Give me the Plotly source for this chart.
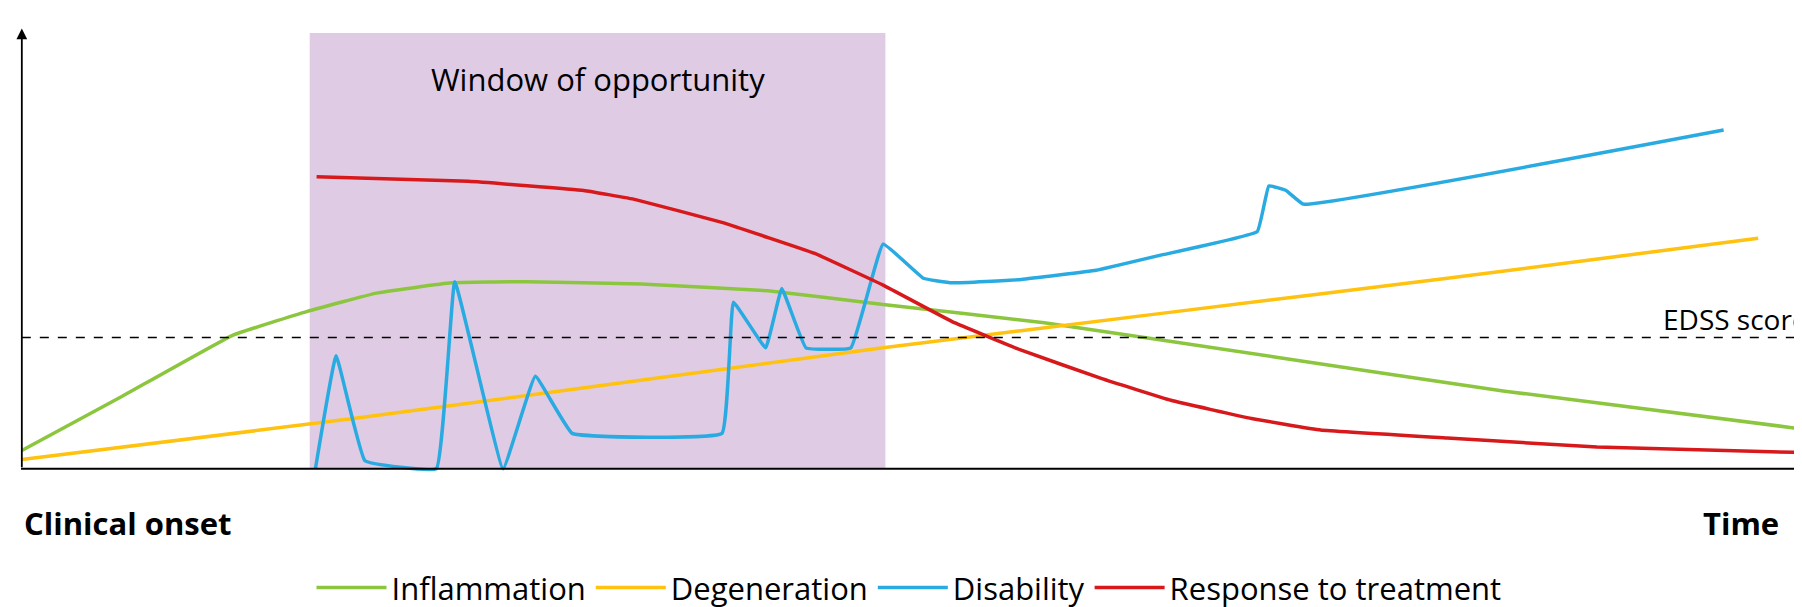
import plotly.graph_objects as go

# schematic curves (pixel space of a 1565x527 view, y grows downward)
infl_x = [12, 100, 195, 260, 320, 385, 450, 550, 660, 760, 900, 1100, 1300, 1565]
infl_y = [388, 340, 287, 266, 250, 241, 240, 242, 248, 260, 276, 306, 336, 370]

degen_x = [12, 300, 760, 1000, 1250, 1520]
degen_y = [396, 360, 298, 268, 237, 202]

resp_x = [268, 400, 500, 545, 620, 700, 760, 820, 880, 950, 1010, 1080, 1140, 1250, 1380, 1565]
resp_y = [148, 152, 160, 168, 188, 215, 243, 275, 300, 325, 344, 360, 370, 377, 385, 390]

dis_x = [267, 285, 310, 372, 388, 430, 458, 490, 620, 630, 658, 672, 693, 732, 760, 795,
         820, 880, 945, 1000, 1085, 1095, 1110, 1125, 1490]
dis_y = [404, 305, 397, 404, 240, 404, 323, 373, 373, 258, 298, 246, 298, 298, 207, 237,
         241, 238, 230, 217, 196, 156, 160, 172, 107]

FONT = "Open Sans"
fig = go.Figure()

# window of opportunity
fig.add_shape(type="rect", x0=262, x1=762, y0=22, y1=404, fillcolor="#dfcce4",
              line_width=0, layer="below")
fig.add_shape(type="line", x0=12, x1=1565, y0=289, y1=289,
              line=dict(color="black", width=1.5, dash="dash"))

series = [
    ("Inflammation", infl_x, infl_y, "#8cc63f"),
    ("Degeneration", degen_x, degen_y, "#ffc20e"),
    ("Disability", dis_x, dis_y, "#29abe2"),
    ("Response to treatment", resp_x, resp_y, "#d7191c"),
]
for name, xs, ys, c in series:
    fig.add_trace(go.Scatter(x=xs, y=ys, mode="lines", name=name,
                             line=dict(color=c, width=3.5, shape="spline", smoothing=0.25)))

# axes with arrows
fig.add_annotation(x=1565, y=404, ax=10, ay=404, xref="x", yref="y", axref="x", ayref="y",
                   showarrow=True, arrowhead=2, arrowsize=1.2, arrowwidth=1.8, text="",
                   arrowcolor="black")
fig.add_annotation(x=12, y=18, ax=12, ay=404, xref="x", yref="y", axref="x", ayref="y",
                   showarrow=True, arrowhead=2, arrowsize=1.2, arrowwidth=1.8, text="",
                   arrowcolor="black")

fig.add_annotation(x=512, y=62, text="Window of opportunity", showarrow=False,
                   font=dict(size=31, color="black", family=FONT))
fig.add_annotation(x=1565, y=273, text="EDSS score", showarrow=False, xanchor="right",
                   font=dict(size=28, color="black", family=FONT))
fig.add_annotation(x=12, y=452, text="<b>Clinical onset</b>", showarrow=False, xanchor="left",
                   font=dict(size=31, color="black", family=FONT))
fig.add_annotation(x=1540, y=452, text="<b>Time</b>", showarrow=False, xanchor="right",
                   font=dict(size=31, color="black", family=FONT))

fig.update_layout(
    width=1802, height=607, margin=dict(l=0, r=0, t=0, b=0),
    plot_bgcolor="white", paper_bgcolor="white",
    xaxis=dict(range=[0, 1565], visible=False, fixedrange=True),
    yaxis=dict(range=[527, 0], visible=False, fixedrange=True),
    legend=dict(orientation="h", x=0.5, xanchor="center", y=0.035, yanchor="middle",
                font=dict(size=31, family=FONT, color="black"), itemwidth=70),
)

fig.write_html("out.html")
